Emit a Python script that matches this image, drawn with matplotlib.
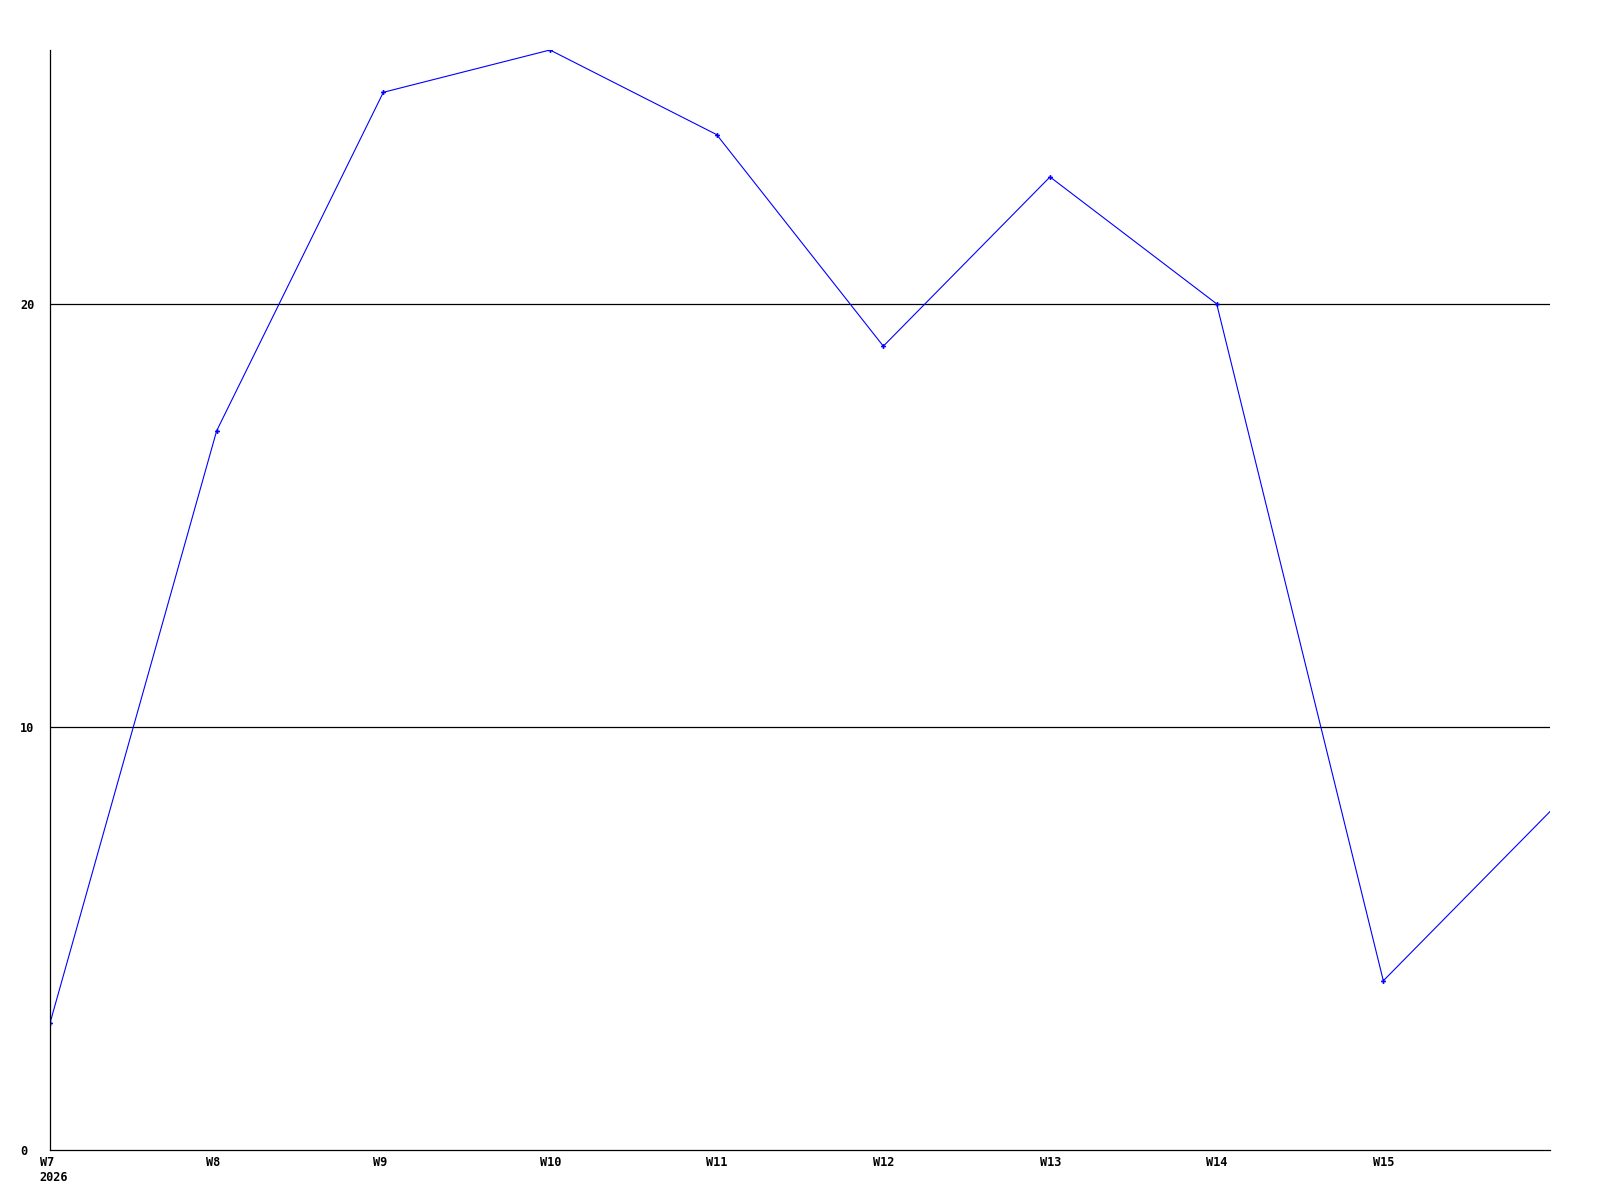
import numpy as np
import matplotlib.pyplot as plt
import matplotlib.transforms as mtransforms

weeks = ["W7", "W8", "W9", "W10", "W11", "W12", "W13", "W14", "W15", "W16"]
values = [3, 17, 25, 26, 24, 19, 23, 20, 4, 8]
year_label = "2026"
y_ticks = [0, 10, 20]

font = {"family": "DejaVu Sans Mono", "weight": "bold", "size": 8.6}

fig = plt.figure(figsize=(16, 12), dpi=100)
ax = fig.add_axes([50 / 1600, 50 / 1200, 1500 / 1600, 1100 / 1200])

x = np.arange(len(weeks))
# last point sits on the right edge, its marker is cut off in the original
ax.plot(x, values, color="#0000ff", linewidth=0.8, marker="P",
        markersize=3.5, markeredgewidth=0, markevery=list(range(len(weeks) - 1)))

ax.set_xlim(0, len(weeks) - 1)
ax.set_ylim(0, 26)

for yv in y_ticks[1:]:
    ax.axhline(yv, color="black", linewidth=0.9, zorder=0)

ax.set_yticks(y_ticks)
ax.set_yticklabels([str(v) for v in y_ticks], fontdict=font)
for lab in ax.get_yticklabels():
    lab.set_horizontalalignment("left")
ax.tick_params(axis="y", length=0, pad=21.6)

ax.set_xticks(x[:-1])
ax.set_xticklabels(weeks[:-1], fontdict=font)
ax.tick_params(axis="x", length=0, pad=4)
shift = mtransforms.ScaledTranslation(-10.5 / 100, 0, fig.dpi_scale_trans)
for lab in ax.get_xticklabels():
    lab.set_horizontalalignment("left")
    lab.set_transform(lab.get_transform() + shift)

for side in ["top", "right"]:
    ax.spines[side].set_visible(False)
for side in ["left", "bottom"]:
    ax.spines[side].set_linewidth(0.9)
    ax.spines[side].set_color("black")

fig.text(39 / 1600, 1 - 1171 / 1200, year_label, ha="left", va="top", **font)

fig.savefig("out.png", dpi=100, facecolor="white")
